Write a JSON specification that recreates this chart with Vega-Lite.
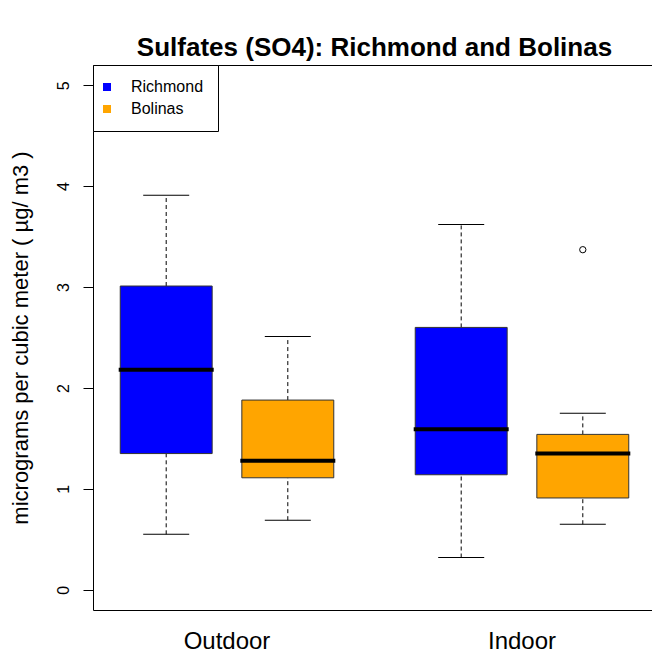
{
  "$schema": "https://vega.github.io/schema/vega-lite/v6.json",
  "width": 563,
  "height": 545,
  "autosize": "none",
  "padding": {"left": 93, "top": 65, "right": 0, "bottom": 50},
  "background": "white",
  "config": {
    "font": "Liberation Sans",
    "view": {"stroke": "black", "strokeWidth": 1},
    "axis": {"labelColor": "black", "titleColor": "black", "tickColor": "black", "grid": false}
  },
  "title": {
    "text": "Sulfates (SO4): Richmond and Bolinas",
    "fontSize": 26,
    "fontWeight": "bold",
    "color": "black",
    "anchor": "middle",
    "offset": 4
  },
  "datasets": {
    "boxes": [
      {"location": "Outdoor", "site": "Richmond", "lower": 0.55, "q1": 1.35, "median": 2.18, "q3": 3.01, "upper": 3.91},
      {"location": "Outdoor", "site": "Bolinas", "lower": 0.69, "q1": 1.11, "median": 1.28, "q3": 1.88, "upper": 2.51},
      {"location": "Indoor", "site": "Richmond", "lower": 0.32, "q1": 1.14, "median": 1.59, "q3": 2.60, "upper": 3.62},
      {"location": "Indoor", "site": "Bolinas", "lower": 0.65, "q1": 0.91, "median": 1.35, "q3": 1.54, "upper": 1.75}
    ],
    "outliers": [
      {"location": "Indoor", "site": "Bolinas", "value": 3.37}
    ]
  },
  "data": {"name": "boxes"},
  "encoding": {
    "x": {
      "field": "location", "type": "nominal", "sort": ["Outdoor", "Indoor"],
      "scale": {"paddingInner": 0.0915, "paddingOuter": 0},
      "axis": {"title": null, "domain": false, "ticks": false, "labelAngle": 0, "labelFontSize": 24, "labelPadding": 19}
    },
    "xOffset": {
      "field": "site", "type": "nominal", "sort": ["Richmond", "Bolinas"],
      "scale": {"paddingInner": 0.244, "paddingOuter": 0.224}
    }
  },
  "layer": [
    {
      "mark": {"type": "rule", "color": "black", "strokeWidth": 1, "strokeDash": [4, 3]},
      "encoding": {
        "y": {
          "field": "lower", "type": "quantitative",
          "scale": {"domain": [-0.2, 5.2], "nice": false, "zero": false},
          "axis": {
            "title": "micrograms per cubic meter  ( µg/ m3 )",
            "values": [0, 1, 2, 3, 4, 5], "format": "d",
            "domain": false, "tickSize": 10, "labelAngle": -90, "labelFontSize": 16, "labelPadding": 12,
            "titleFontSize": 22, "titleFontWeight": "normal", "titlePadding": 23
          }
        },
        "y2": {"field": "q1"}
      }
    },
    {
      "mark": {"type": "rule", "color": "black", "strokeWidth": 1, "strokeDash": [4, 3]},
      "encoding": {"y": {"field": "q3", "type": "quantitative"}, "y2": {"field": "upper"}}
    },
    {
      "mark": {"type": "tick", "color": "black", "opacity": 1, "size": 46, "thickness": 1},
      "encoding": {"y": {"field": "lower", "type": "quantitative"}}
    },
    {
      "mark": {"type": "tick", "color": "black", "opacity": 1, "size": 46, "thickness": 1},
      "encoding": {"y": {"field": "upper", "type": "quantitative"}}
    },
    {
      "mark": {"type": "bar", "stroke": "#333333", "strokeWidth": 1, "opacity": 1},
      "encoding": {
        "y": {"field": "q1", "type": "quantitative"},
        "y2": {"field": "q3"},
        "color": {
          "field": "site", "type": "nominal",
          "scale": {"domain": ["Richmond", "Bolinas"], "range": ["#0000FF", "#FFA500"]},
          "legend": {
            "title": null, "orient": "top-left", "offset": 0,
            "strokeColor": "black", "fillColor": "white", "padding": 14,
            "symbolType": "square", "symbolSize": 64, "symbolStrokeWidth": 0, "symbolOffset": -8,
            "labelFontSize": 16, "labelColor": "black", "labelOffset": 16, "rowPadding": 6
          }
        }
      }
    },
    {
      "mark": {"type": "tick", "color": "black", "opacity": 1, "size": 95, "thickness": 4},
      "encoding": {"y": {"field": "median", "type": "quantitative"}}
    },
    {
      "data": {"name": "outliers"},
      "mark": {"type": "point", "shape": "circle", "filled": false, "stroke": "black", "opacity": 1, "strokeWidth": 1, "size": 40},
      "encoding": {
        "y": {"field": "value", "type": "quantitative"}
      }
    }
  ]
}
